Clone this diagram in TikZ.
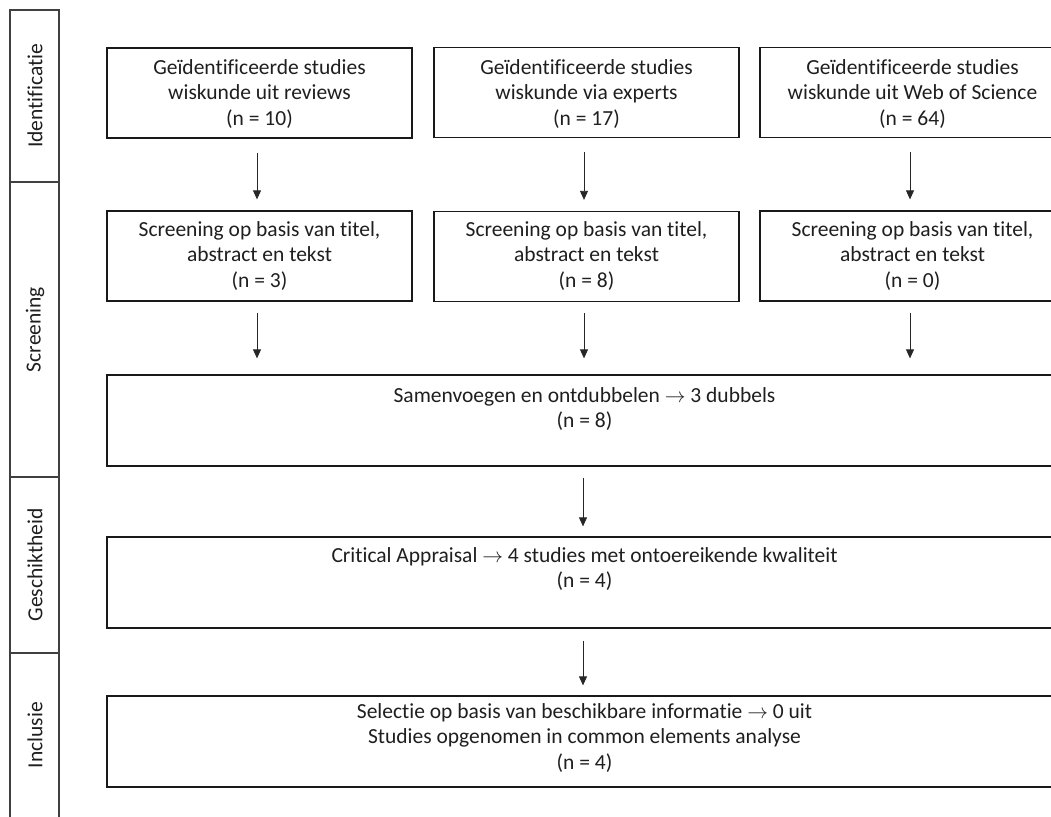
\documentclass[tikz,border=0pt]{standalone}
\usepackage{fontspec}
\setmainfont{Carlito}[RawFeature={-liga,-clig,-calt,-dlig,-rlig}]
\usetikzlibrary{arrows.meta,calc}
\newcommand{\rarr}{$\rightarrow$}
\begin{document}
\begin{tikzpicture}[x=1pt,y=-1pt,
  box/.style={draw=black!90, line width=1.3pt, inner sep=0pt, minimum width=305pt, minimum height=90pt},
  wide/.style={box, minimum width=955pt, minimum height=91pt},
  txt/.style={font=\fontsize{21.5}{25.5}\selectfont, align=center, inner sep=0pt, anchor=north, text=black!88},
  side/.style={draw=black!75, line width=1.6pt},
  slabel/.style={font=\fontsize{21.5}{25}\selectfont, rotate=90, inner sep=0pt, text=black!88},
  arr/.style={-{Triangle[width=8pt,length=9pt]}, line width=0.8pt, draw=black!85}]
\clip (0,0) rectangle (1051,816);
\fill[white] (0,0) rectangle (1051,816);

% sidebar
\draw[side] (10,820) -- (10,10) -- (59,10) -- (59,820);
\draw[side] (10,182) -- (59,182);
\draw[side] (10,477) -- (59,477);
\draw[side] (10,653) -- (59,653);
\node[slabel] (l1) at (35,96) {Identificatie};
\node[slabel] (l2) at (35,329.5) {Screening};
\node[slabel] (l3) at (35,565) {Geschiktheid};
\node[slabel] (l4) at (35,735) {Inclusie};

% boxes
\node[box] (b1) at (259.5,93) {};
\node[box] (b2) at (586.5,92.5) {};
\node[box] (b3) at (912.5,92.5) {};
\node[box] (s1) at (259.5,256) {};
\node[box] (s2) at (586.5,256.5) {};
\node[box] (s3) at (912.5,256) {};
\node[wide] (m) at (584.5,420.5) {};
\node[wide] (c) at (584.5,582.5) {};
\node[wide] (sel) at (584.5,741.5) {};

% texts
\node[txt] (tb1) at (259.5,56) {\strut Geïdentificeerde studies\\wiskunde uit reviews\\(n = 10)};
\node[txt] (tb2) at (586.5,56) {\strut Geïdentificeerde studies\\wiskunde via experts\\(n = 17)};
\node[txt] (tb3) at (912.5,56) {\strut Geïdentificeerde studies\\wiskunde uit Web of Science\\(n = 64)};
\node[txt] (ts1) at (259.5,218) {\strut Screening op basis van titel,\\abstract en tekst\\(n = 3)};
\node[txt] (ts2) at (586.5,218) {\strut Screening op basis van titel,\\abstract en tekst\\(n = 8)};
\node[txt] (ts3) at (912.5,218) {\strut Screening op basis van titel,\\abstract en tekst\\(n = 0)};
\node[txt] (tm) at (584.5,384) {\strut Samenvoegen en ontdubbelen \rarr{} 3 dubbels\\(n = 8)};
\node[txt] (tc) at (584.5,544) {\strut Critical Appraisal \rarr{} 4 studies met ontoereikende kwaliteit\\(n = 4)};
\node[txt] (tsel) at (584.5,700) {\strut Selectie op basis van beschikbare informatie \rarr{} 0 uit\\Studies opgenomen in common elements analyse\\(n = 4)};

% arrows
\draw[arr] ([shift={(-2.5pt,-14pt)}]b1.south) -- ([shift={(-2.5pt,11pt)}]s1.north);
\draw[arr] ([shift={(-2.5pt,-14pt)}]b2.south) -- ([shift={(-2.5pt,11pt)}]s2.north);
\draw[arr] ([shift={(-2.5pt,-14pt)}]b3.south) -- ([shift={(-2.5pt,11pt)}]s3.north);
\draw[arr] ([shift={(-2.5pt,-11pt)}]s1.south) -- ($(s1.south |- m.north)+(-2.5pt,16pt)$);
\draw[arr] ([shift={(-2.5pt,-11pt)}]s2.south) -- ($(s2.south |- m.north)+(-2.5pt,16pt)$);
\draw[arr] ([shift={(-2.5pt,-11pt)}]s3.south) -- ($(s3.south |- m.north)+(-2.5pt,16pt)$);
\draw[arr] ([shift={(-1.5pt,-11pt)}]m.south) -- ([shift={(-1.5pt,10pt)}]c.north);
\draw[arr] ([shift={(-1.5pt,-12pt)}]c.south) -- ([shift={(-1.5pt,10pt)}]sel.north);
\end{tikzpicture}
\end{document}
